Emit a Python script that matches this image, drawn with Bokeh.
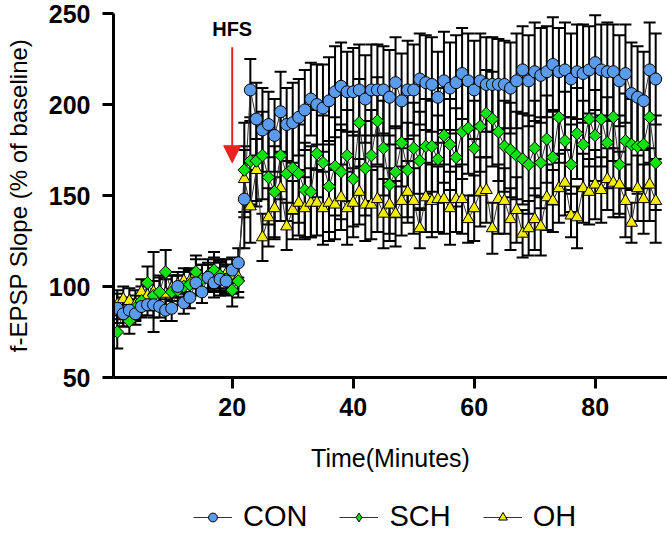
import math
from bokeh.plotting import figure
from bokeh.layouts import column
from bokeh.models import (ColumnDataSource, Whisker, TeeHead, Arrow, NormalHead, Label,
                          Legend, LegendItem, FixedTicker, Range1d)
from bokeh.embed import file_html
from bokeh.resources import INLINE

minutes = list(range(1, 91))

con = [88, 85, 87, 85, 89, 90, 90, 89, 87, 88, 100, 91, 94, 102, 97, 105, 102, 104, 103, 109, 113,
       148, 208, 192, 186, 189, 183, 196, 189, 190, 193, 197, 203, 200, 198, 202, 207, 210, 207, 207,
       208, 203, 208, 208, 208, 204, 212, 202, 208, 208, 214, 212, 211, 204, 213, 209, 212, 217, 213, 208,
       213, 211, 211, 211, 211, 209, 213, 219, 213, 218, 216, 218, 222, 218, 219, 214, 218, 217, 219, 223,
       219, 218, 218, 213, 217, 206, 204, 202, 219, 214]
con_err = [8, 7, 6, 6, 6, 6, 7, 6, 6, 7, 6, 6, 6, 7, 6, 7, 8, 9, 8, 7, 8,
           27, 17, 20, 23, 18, 20, 22, 20, 22, 21, 22, 20, 22, 24, 24, 25, 24, 22, 24,
           25, 24, 25, 25, 24, 26, 25, 26, 27, 25, 25, 26, 26, 25, 27, 25, 26, 25, 26, 27,
           26, 26, 26, 25, 24, 25, 26, 24, 25, 27, 26, 25, 26, 24, 26, 25, 26, 27, 24, 26,
           25, 27, 26, 25, 27, 28, 28, 27, 26, 25]

sch = [75, 86, 81, 88, 92, 102, 95, 97, 108, 97, 98, 100, 101, 108, 104, 106, 109, 106, 104, 98, 103,
       164, 169, 169, 172, 160, 152, 172, 162, 165, 162, 153, 152, 173, 168, 155, 166, 163, 172, 159,
       190, 165, 172, 191, 176, 156, 163, 179, 164, 176, 169, 177, 177, 170, 183, 178, 171, 185, 187, 176,
       188, 195, 192, 185, 177, 175, 172, 170, 167, 176, 168, 181, 171, 193, 180, 167, 184, 178, 192, 183,
       192, 179, 193, 167, 180, 178, 177, 178, 193, 168]
sch_err = [9, 8, 7, 7, 8, 9, 8, 9, 12, 9, 8, 8, 8, 9, 8, 9, 10, 9, 8, 9, 9,
           26, 24, 25, 24, 26, 25, 24, 26, 25, 27, 26, 25, 24, 26, 25, 27, 26, 25, 26,
           24, 26, 25, 24, 26, 27, 25, 24, 26, 25, 27, 26, 25, 24, 26, 25, 27, 26, 25, 26,
           25, 24, 26, 27, 25, 26, 24, 25, 27, 26, 25, 24, 26, 25, 27, 26, 25, 24, 26, 25,
           26, 25, 24, 27, 26, 25, 26, 24, 25, 26]

oh = [90, 93, 92, 90, 97, 95, 97, 97, 96, 99, 101, 103, 103, 107, 104, 106, 108, 106, 107, 104, 105,
      159, 144, 164, 127, 138, 143, 154, 133, 142, 146, 143, 146, 146, 143, 146, 145, 149, 143, 146,
      152, 145, 145, 148, 140, 145, 140, 147, 152, 147, 132, 149, 147, 148, 148, 143, 148, 148, 137, 143,
      152, 153, 132, 148, 147, 137, 142, 129, 132, 137, 133, 149, 147, 154, 157, 139, 138, 154, 152, 156,
      153, 159, 157, 156, 147, 135, 154, 148, 156, 147]
oh_err = [8, 7, 7, 8, 7, 8, 22, 8, 8, 7, 7, 7, 7, 8, 8, 7, 8, 8, 8, 8, 8,
          18, 20, 17, 13, 16, 17, 18, 13, 16, 18, 17, 19, 18, 20, 21, 19, 18, 20, 19,
          18, 20, 19, 18, 19, 20, 18, 19, 17, 18, 11, 19, 20, 18, 19, 20, 18, 19, 13, 18,
          19, 18, 14, 19, 18, 17, 18, 13, 15, 17, 16, 18, 17, 19, 18, 12, 17, 19, 18, 19,
          18, 17, 19, 18, 20, 11, 18, 19, 20, 23]

series_names = ["CON", "SCH", "OH"]
x_ticks = [20, 40, 60, 80]
y_ticks = [50, 100, 150, 200, 250]
hfs_time = 20
hfs_text = "HFS"
arrow_from = 231.5
arrow_to = 168
hfs_label_y = 241.5

COLORS = {"CON": "#5b9bec", "SCH": "#14e014", "OH": "#f3ec00"}
MARKERS = {"CON": "circle", "SCH": "square", "OH": "triangle"}
LEGEND_MARKERS = {"CON": "circle", "SCH": "diamond", "OH": "triangle"}
SIZES = {"CON": 12, "SCH": 9, "OH": 12}
ANGLES = {"CON": 0.0, "SCH": math.pi / 4, "OH": 0.0}
FONT = "Liberation Sans"

p = figure(width=667, height=484, output_backend="svg", toolbar_location=None,
           x_range=Range1d(0.38, 91.95), y_range=Range1d(50, 250),
           min_border_left=113, min_border_right=0, min_border_top=13, min_border_bottom=107)
p.outline_line_color = None
p.grid.visible = False

for ax in (p.xaxis[0], p.yaxis[0]):
    ax.axis_line_width = 3
    ax.axis_line_color = "black"
    ax.major_tick_line_width = 3
    ax.major_tick_line_color = "black"
    ax.major_tick_out = 11
    ax.major_tick_in = 0
    ax.minor_tick_out = 0
    ax.minor_tick_in = 0
    ax.major_label_text_font = FONT
    ax.major_label_text_font_style = "bold"
    ax.major_label_text_font_size = "25px"
    ax.major_label_text_color = "black"
    ax.axis_label_text_font = FONT
    ax.axis_label_text_font_style = "normal"
    ax.axis_label_text_color = "black"

p.xaxis.ticker = FixedTicker(ticks=x_ticks)
p.yaxis.ticker = FixedTicker(ticks=y_ticks)
p.xaxis.major_label_standoff = 9
p.yaxis.major_label_standoff = 12
p.xaxis.axis_label = "Time(Minutes)"
p.xaxis.axis_label_text_font_size = "25px"
p.xaxis.axis_label_standoff = 25
p.yaxis.axis_label = "f-EPSP Slope (% of baseline)"
p.yaxis.axis_label_text_font_size = "24px"
p.yaxis.axis_label_standoff = 14

data = {"CON": (con, con_err), "SCH": (sch, sch_err), "OH": (oh, oh_err)}
sources = {}
for name in ["OH", "SCH", "CON"]:
    vals, errs = data[name]
    src = ColumnDataSource(dict(
        x=minutes, y=vals,
        upper=[v + e for v, e in zip(vals, errs)],
        lower=[v - e for v, e in zip(vals, errs)]))
    sources[name] = src
    w = Whisker(source=src, base="x", upper="upper", lower="lower",
                line_color="black", line_width=2,
                upper_head=TeeHead(size=12, line_color="black", line_width=2),
                lower_head=TeeHead(size=12, line_color="black", line_width=2))
    p.add_layout(w)

for name in ["OH", "SCH", "CON"]:
    p.line("x", "y", source=sources[name], line_color="#333333", line_width=1)

for name in ["OH", "SCH", "CON"]:
    p.scatter("x", "y", source=sources[name], marker=MARKERS[name], angle=ANGLES[name],
              size=SIZES[name], fill_color=COLORS[name], line_color="black", line_width=1)

arrow = Arrow(x_start=hfs_time, y_start=arrow_from, x_end=hfs_time, y_end=arrow_to,
              line_color="#e8231d", line_width=2,
              end=NormalHead(size=17, fill_color="#e8231d", line_color="#e8231d"))
p.add_layout(arrow)
p.add_layout(Label(x=hfs_time, y=hfs_label_y, text=hfs_text, text_align="center",
                   text_baseline="middle", text_font=FONT, text_font_style="bold",
                   text_font_size="20px", text_color="black"))

# legend strip below the chart (its renderers use the same data, which lies off its range)
p2 = figure(width=667, height=49, output_backend="svg", toolbar_location=None,
            x_range=Range1d(-2, -1), y_range=Range1d(-2, -1),
            x_axis_type=None, y_axis_type=None,
            min_border_left=0, min_border_right=0, min_border_top=0, min_border_bottom=0)
p2.outline_line_color = None
p2.grid.visible = False
items = []
for name in series_names:
    lr = p2.line("x", "y", source=sources[name], line_color="#333333", line_width=1)
    sr = p2.scatter("x", "y", source=sources[name], marker=LEGEND_MARKERS[name],
                    fill_color=COLORS[name], line_color="black", line_width=1)
    items.append(LegendItem(label=name, renderers=[lr, sr]))
legend = Legend(items=items, orientation="horizontal", location=(80, 0),
                glyph_width=39, glyph_height=22, label_standoff=11, spacing=32,
                label_text_font=FONT, label_text_font_size="29px", label_text_color="black",
                label_height=30, padding=0, margin=0,
                border_line_alpha=0, background_fill_alpha=0)
p2.add_layout(legend)

layout = column(p, p2, spacing=0)
open("out.html", "w").write(file_html(layout, INLINE))
